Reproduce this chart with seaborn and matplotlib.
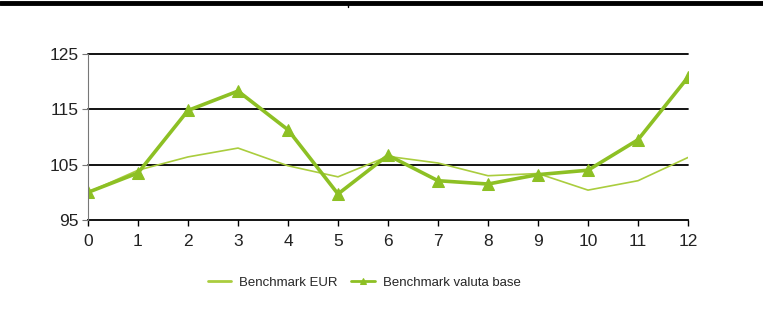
import matplotlib
matplotlib.use("Agg")
import matplotlib.pyplot as plt
from matplotlib.lines import Line2D
import numpy as np
import pandas as pd
import seaborn as sns

# Periods and index values (base 100)
periods = list(range(13))
benchmark_eur = [100, 104.0, 106.4, 108.0, 104.8, 102.8, 106.5, 105.3, 103.0, 103.4, 100.4, 102.1, 106.3]
benchmark_valuta_base = [100, 103.5, 114.8, 118.3, 111.3, 99.7, 106.7, 102.1, 101.5, 103.2, 104.0, 109.5, 120.8]
series_names = ["Benchmark EUR", "Benchmark valuta base"]
y_ticks = [95, 105, 115, 125]

sns.set_theme(style="white")
plt.rcParams["font.family"] = ["Liberation Sans", "DejaVu Sans"]

df = pd.DataFrame({
    "period": periods * 2,
    "value": benchmark_eur + benchmark_valuta_base,
    "series": [series_names[0]] * len(periods) + [series_names[1]] * len(periods),
})

fig = plt.figure(figsize=(7.63, 3.31), dpi=100)
ax = fig.add_axes([88 / 763, 111 / 331, 600 / 763, 166 / 331])

thin_color = "#AACD3E"
thick_color = "#8DC024"

sns.lineplot(data=df[df["series"] == series_names[0]], x="period", y="value",
             color=thin_color, linewidth=1.2, ax=ax, label=series_names[0])
sns.lineplot(data=df[df["series"] == series_names[1]], x="period", y="value",
             color=thick_color, linewidth=2.6, marker="^", markersize=8.5,
             markeredgecolor=thick_color, ax=ax, label=series_names[1])

ax.set_xlim(0, 12)
ax.set_ylim(95, 125)
ax.set_xticks(periods)
ax.set_yticks(y_ticks)
ax.set_xlabel("")
ax.set_ylabel("")

for y in y_ticks[1:]:
    ax.axhline(y, color="black", linewidth=1.3, zorder=0, clip_on=False)

for side in ["top", "right"]:
    ax.spines[side].set_visible(False)
ax.spines["bottom"].set_color("black")
ax.spines["bottom"].set_linewidth(1.3)
ax.spines["left"].set_color("#777777")
ax.spines["left"].set_linewidth(0.8)
ax.spines["bottom"].set_zorder(0)

ax.tick_params(axis="x", direction="out", length=4, width=1, color="black",
               labelsize=12.5, pad=6, bottom=True)
ax.tick_params(axis="y", direction="out", length=4, width=0.8, color="#777777",
               labelsize=12.5, pad=3, left=True)
for lbl in ax.get_xticklabels() + ax.get_yticklabels():
    lbl.set_color("#222222")

leg = ax.legend(loc="upper center", bbox_to_anchor=(0.46, -0.27), ncol=2,
                frameon=False, fontsize=9.5, handlelength=1.8, columnspacing=1.0,
                handletextpad=0.6)
for h in leg.legend_handles:
    h.set_linewidth(2.0)
    if h.get_marker() not in (None, "None", ""):
        h.set_markersize(5)

# Heavy rule along the top edge of the page
fig.add_artist(Line2D([0, 1], [1 - 3 / 331, 1 - 3 / 331], color="black",
                      linewidth=3.5, transform=fig.transFigure))
fig.add_artist(Line2D([348 / 763, 348 / 763], [1 - 3 / 331, 1 - 7 / 331],
                      color="black", linewidth=1, transform=fig.transFigure))

fig.savefig("out.png", dpi=100)
